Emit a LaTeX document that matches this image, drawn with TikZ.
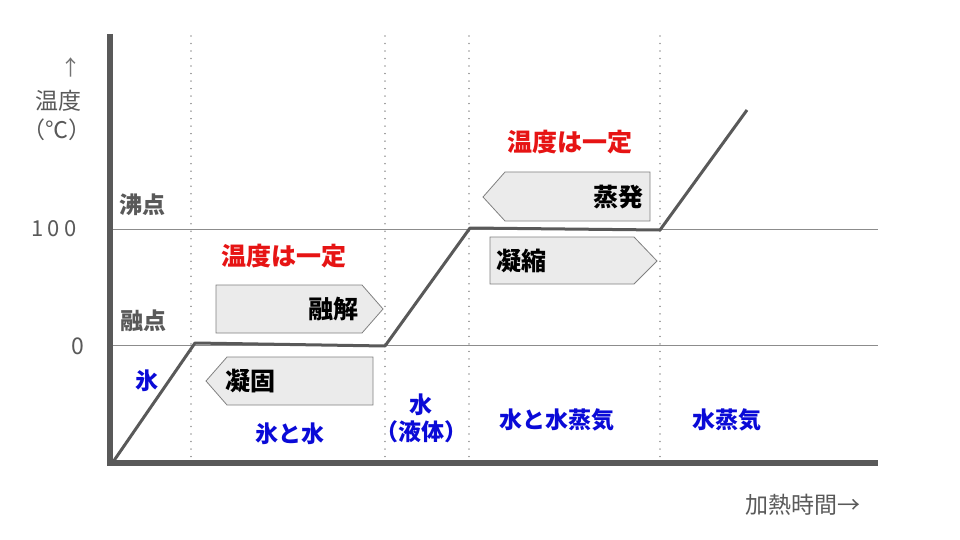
\documentclass[tikz,border=0pt]{standalone}
\usepackage{fontspec}
\setmainfont{Noto Sans CJK JP}
\definecolor{myblue}{RGB}{10,10,215}
\definecolor{myred}{RGB}{230,20,20}
\begin{document}
\begin{tikzpicture}[x=1pt,y=-1pt,
  axisline/.style={line width=6pt,draw=black!65},
  gridline/.style={line width=0.8pt,draw=black!45},
  vdots/.style={line width=1.6pt,draw=black!40,dash pattern=on 0.01pt off 7.5pt,line cap=round},
  curve/.style={line width=3pt,draw=black!65,line join=round},
  graylabel/.style={text=black!65,font=\fontsize{23}{26}\selectfont},
  graybold/.style={text=black!65,font=\bfseries\fontsize{23}{26}\selectfont},
  bluelabel/.style={text=myblue,font=\bfseries\fontsize{23}{27}\selectfont,align=center},
  redlabel/.style={text=myred,font=\bfseries\fontsize{25}{28}\selectfont},
  boxlabel/.style={text=black,font=\bfseries\fontsize{25}{28}\selectfont},
  arrowbox/.style={fill=black!8,draw=black!50,line width=0.8pt,line join=miter}]
\useasboundingbox (0,0) rectangle (960,540);
% dotted verticals
\foreach \xx in {191,385,469,660}{
  \draw[vdots] (\xx,36) -- (\xx,462);
}
% grid lines
\draw[gridline] (113,229) -- (878,229);
\draw[gridline] (113,345) -- (878,345);
% axes
\coordinate (O) at (110,463);
\coordinate (Ytop) at (110,34);
\coordinate (Xend) at (878,463);
\draw[axisline] (Ytop) -- (O);
\draw[axisline] (107,463) -- (Xend);
% curve
\coordinate (p0) at (113,462);
\coordinate (p1) at (195,343);
\coordinate (p2) at (385,346);
\coordinate (p3) at (470,228);
\coordinate (p4) at (660,230);
\coordinate (p5) at (747,110);
\draw[curve] (p0) -- (p1) -- (p2) -- (p3) -- (p4) -- (p5);
% arrow boxes
\draw[arrowbox] (216,285) -- (362,285) -- (383,309) -- (362,333) -- (216,333) -- cycle;
\node[boxlabel,anchor=east] (yukai) at (362,309) {融解};
\draw[arrowbox] (373,357) -- (227,357) -- (206,381) -- (227,405) -- (373,405) -- cycle;
\node[boxlabel,anchor=west] (gyoko) at (222,381) {凝固};
\draw[arrowbox] (650,172) -- (505,172) -- (483,197) -- (505,221) -- (650,221) -- cycle;
\node[boxlabel,anchor=east] (johatsu) at (647,197) {蒸発};
\draw[arrowbox] (490,237) -- (634,237) -- (657,261) -- (634,284) -- (490,284) -- cycle;
\node[boxlabel,anchor=west] (gyoshuku) at (493,261) {凝縮};
% red labels
\node[redlabel] (red1) at (284,256) {温度は一定};
\node[redlabel] (red2) at (570,142) {温度は一定};
% axis labels
\node[text=black!55,font=\fontsize{21}{22}\selectfont] (uparrow) at (71,67) {↑};
\node[graylabel] (ondo) at (58,101) {温度};
\node[graylabel] (unit) at (57,130) {（℃）};
\node[graybold] (futten) at (142,205) {沸点};
\node[graylabel,font=\fontsize{22}{24}\selectfont\addfontfeature{LetterSpace=18}] (hundred) at (54,229) {100};
\node[graybold] (yuten) at (143,321) {融点};
\node[graylabel] (zero) at (78,346) {0};
\node[graylabel,anchor=east] (time) at (864,505) {加熱時間→};
% blue labels
\node[bluelabel] (kori) at (147,381) {氷};
\node[bluelabel] (korimizu) at (290,434) {氷と水};
\node[bluelabel] (mizu) at (421,418) {水\\（液体）};
\node[bluelabel] (mizujoki) at (557,420) {水と水蒸気};
\node[bluelabel] (joki) at (727,420) {水蒸気};
\end{tikzpicture}
\end{document}
